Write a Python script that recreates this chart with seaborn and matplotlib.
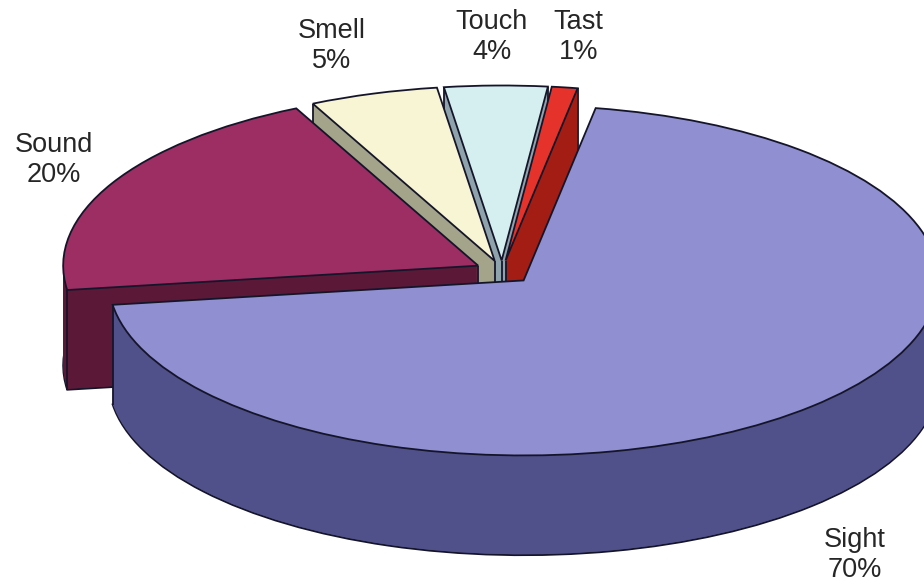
import numpy as np
import matplotlib
matplotlib.use("Agg")
import matplotlib.pyplot as plt
from matplotlib.patches import Wedge
import seaborn as sns

# ---- data ----
categories = ["Sight", "Sound", "Smell", "Touch", "Tast"]
shares = [70, 20, 5, 4, 1]
share_labels = ["70%", "20%", "5%", "4%", "1%"]
explode = [0.075, 0.065, 0.06, 0.06, 0.06]
top_colors = ["#8F8FD1", "#9C2E63", "#F8F5D4", "#D5EFF1", "#E5322A"]
side_colors = ["#50508A", "#5B1937", "#A3A489", "#8EA3AC", "#A31D14"]
draw_order = ["Touch", "Tast", "Smell", "Sound", "Sight"]
label_pos = [(0.925, 0.054), (0.058, 0.728), (0.359, 0.922), (0.532, 0.937), (0.626, 0.937)]

sns.set_theme(style="white")
plt.rcParams["font.family"] = ["Liberation Sans", "DejaVu Sans"]

fig = plt.figure(figsize=(9.24, 5.87), dpi=100)
ax = fig.add_axes([0, 0, 1, 1])

edge = "#15152a"
lw = 1.3
wedges, _ = ax.pie(shares, explode=explode, startangle=80, counterclock=False,
                   colors=top_colors, frame=False,
                   wedgeprops=dict(edgecolor=edge, linewidth=lw))

depth = 0.57
n_layers = 102
offsets = np.linspace(-depth, 0, n_layers)[:-1]


def faces_viewer(angle_deg):
    return np.sin(np.radians(angle_deg)) < -1e-6


for rank, name in enumerate(draw_order):
    i = categories.index(name)
    w = wedges[i]
    base = rank * 10
    cx, cy = w.center
    for k, dz in enumerate(offsets):
        layer = Wedge((cx, cy + dz), w.r, w.theta1, w.theta2,
                      facecolor=side_colors[i],
                      edgecolor=edge if k == 0 else "none",
                      linewidth=lw if k == 0 else 0,
                      zorder=base + 1 + k * 0.001)
        ax.add_patch(layer)
    # vertical edges: only those touching a face turned towards the viewer
    xs, ys = [], []
    t1, t2 = w.theta1, w.theta2
    if faces_viewer(t1 - 90) or faces_viewer(t2 + 90):
        xs.append(cx); ys.append(cy)
    if faces_viewer(t1 - 90) or faces_viewer(t1):
        xs.append(cx + w.r * np.cos(np.radians(t1))); ys.append(cy + w.r * np.sin(np.radians(t1)))
    if faces_viewer(t2 + 90) or faces_viewer(t2):
        xs.append(cx + w.r * np.cos(np.radians(t2))); ys.append(cy + w.r * np.sin(np.radians(t2)))
    for a in (180, -180, 0, 360):
        if t1 + 10 < a < t2 - 10:
            xs.append(cx + w.r * np.cos(np.radians(a))); ys.append(cy + w.r * np.sin(np.radians(a)))
    if xs:
        ax.vlines(xs, np.array(ys) - depth, ys, colors=edge, linewidth=lw, zorder=base + 3)
    w.set_zorder(base + 5)

ax.set_aspect("auto")
ax.set_xlim(-1.2096, 1.0169)
ax.set_ylim(-1.8057, 1.5486)
ax.set_axis_off()

for i, name in enumerate(categories):
    fig.text(label_pos[i][0], label_pos[i][1], f"{name}\n{share_labels[i]}",
             ha="center", va="center", fontsize=19.5, color="#262626",
             linespacing=1.2)

fig.savefig("out.png", dpi=100)
